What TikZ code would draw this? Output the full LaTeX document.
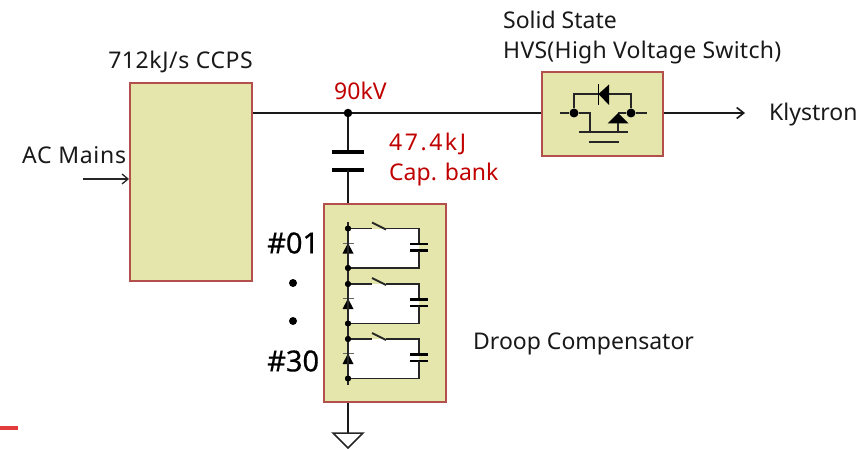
\documentclass[tikz,border=0pt]{standalone}
\usepackage{fontspec}
\setmainfont{Noto Sans}
\usetikzlibrary{arrows.meta}
\definecolor{boxfill}{HTML}{E4E6AC}
\definecolor{boxline}{HTML}{B4504C}
\definecolor{redtxt}{HTML}{C00000}
\definecolor{redmark}{HTML}{E23C3C}
\tikzset{
  x=1pt,y=-1pt,
  blockbox/.style={draw=boxline,fill=boxfill,line width=2pt,minimum width=0pt,inner sep=0pt},
  wire/.style={draw=black!90,line width=2.3pt},
  thin wire/.style={draw=black!85,line width=1.8pt},
  plate/.style={draw=black,line width=4pt},
  smallplate/.style={draw=black,line width=2.4pt},
  dot/.style={circle,fill=black,inner sep=0pt,minimum size=#1},
  dot/.default=8pt,
  lbl/.style={font=\fontsize{23}{30}\selectfont,text=black!90,inner sep=0pt,align=left},
  redlbl/.style={font=\fontsize{23}{30}\selectfont,text=redtxt,inner sep=0pt,align=left},
  bignum/.style={font=\fontsize{29}{34}\selectfont\addfontfeature{FakeBold=0.5},text=black,inner sep=0pt},
}
\newcommand{\loopcell}[2]{% name, top y
  \coordinate (#1a) at (348,#2);
  \coordinate (#1b) at (348,#2+39.5);
  \coordinate (#1c) at (419,#2);
  \coordinate (#1d) at (419,#2+39.5);
  \fill[white] (#1a) rectangle (#1d);
  \node[dot=6pt] (#1da) at (#1a) {};
  \node[dot=6pt] (#1db) at (#1b) {};
  \coordinate (#1s1) at (372,#2);
  \coordinate (#1s2) at (386,#2);
  \coordinate (#1s3) at (372,#2-6);
  \coordinate (#1s4) at (386,#2+1);
  \draw[thin wire] (#1da) -- (#1s1);
  \draw[thin wire] (#1s3) -- (#1s4);
  \draw[thin wire] (#1s2) -- (#1c) -- (419,#2+15.5);
  \draw[smallplate] (410,#2+15.5) -- (428,#2+15.5);
  \draw[smallplate] (410,#2+22) -- (428,#2+22);
  \draw[thin wire] (419,#2+22) -- (#1d) -- (#1db);
  \fill[black] (348,#2+14.5) -- (353.5,#2+25) -- (342.5,#2+25) -- cycle;
  \draw[line width=1pt,draw=black!60] (342.5,#2+14.5) -- (353.5,#2+14.5);
}
\begin{document}
\begin{tikzpicture}
\useasboundingbox (0,0) rectangle (867,449);
% blocks
\node[blockbox,minimum width=122pt,minimum height=198pt] (ccps) at (191,182) {};
\node[blockbox,minimum width=121pt,minimum height=84pt] (hvs) at (602.5,114) {};
\node[blockbox,minimum width=122pt,minimum height=198pt] (droop) at (385,303) {};
% main bus
\node[dot=8.5pt] (junction) at (348,113) {};
\coordinate (ccpsout) at (ccps.east |- junction);
\coordinate (hvsin) at (hvs.west |- junction);
\coordinate (hvsout) at (hvs.east |- junction);
\draw[wire] (ccpsout) -- (junction);
\draw[wire] (junction) -- (hvsin);
\node[lbl,anchor=west] (kly) at (769,114.5) {Klystron};
\coordinate (klyend) at (745,113);
\draw[wire,-{Straight Barb[length=7pt,width=11pt,line width=1.6pt]}] (hvsout) -- (klyend);
% AC
\node[lbl,anchor=west] (ac) at (22,155) {\addfontfeature{LetterSpace=3}AC Mains};
\coordinate (acstart) at (83,179);
\coordinate (acend) at (ccps.west |- acstart);
\draw[thin wire,-{Straight Barb[length=6pt,width=10pt,line width=1.3pt]}] (acstart) -- (acend);
% Cap bank
\coordinate (captop) at (348,152);
\coordinate (capbot) at (348,170);
\draw[wire] (junction) -- (captop);
\draw[plate] (332,152) -- (364,152);
\draw[plate] (332,170) -- (364,170);
\draw[wire] (capbot) -- (junction |- droop.north);
% HVS symbol
\node[dot=9pt] (hl) at (574,113) {};
\node[dot=9pt] (hr) at (631,113) {};
\coordinate (hlw) at (560,113);
\coordinate (hrw) at (647,113);
\draw[thin wire] (hlw) -- (hl) -- (590,113) -- (590,132);
\draw[thin wire] (hr) -- (hrw);
\draw[thin wire] (hl) -- (574,94) -- (631,94) -- (hr);
\fill[black] (598.5,94) -- (609,84.5) -- (609,105) -- cycle;
\draw[line width=1.8pt,black] (598.5,84.5) -- (598.5,105);
\draw[thin wire] (hr) -- (618,113);
\fill[black] (618,113) -- (628.5,123.5) -- (607.5,123.5) -- cycle;
\draw[thin wire] (618,123) -- (618,132);
\draw[thin wire] (579,132) -- (628,132);
\draw[thin wire] (589,142) -- (619,142);
% Droop compensator
\loopcell{A}{228.5}
\loopcell{B}{284}
\loopcell{C}{339}
\draw[line width=1.8pt,black!85] (348,222) -- (348,385);
\foreach \n in {A,B,C}{\node[dot=6pt] at (\n a) {};\node[dot=6pt] at (\n b) {};}
% ground
\coordinate (gndt) at (348,433);
\draw[wire] (droop.south -| gndt) -- (gndt);
\draw[line width=1.5pt,black!85] (333,433) -- (363,433) -- (348,448) -- cycle;
% text
\node[lbl,anchor=center] (t1) at (180.5,61.5) {\addfontfeature{LetterSpace=2.5}712kJ/s CCPS};
\node[lbl,anchor=west] (t2) at (503,38) {Solid State\\\addfontfeature{LetterSpace=1.2}HVS(High Voltage Switch)};
\node[redlbl,anchor=west] (t3) at (334,91) {90kV};
\node[redlbl,anchor=west] (t4) at (389,159.5) {{\addfontfeature{LetterSpace=11}47.4kJ}\\Cap. bank};
\node[lbl,anchor=west] (t5) at (473,343.5) {Droop Compensator};
\node[bignum,anchor=west] (n1) at (267,243) {\#01};
\node[bignum,anchor=west] (n2) at (267,361) {\#30};
\node[dot=8pt] (d1) at (293,283) {};
\node[dot=8pt] (d2) at (293,321) {};
% stray mark
\coordinate (r1) at (0,428);
\coordinate (r2) at (18,428);
\draw[line width=4.5pt,draw=redmark] (r1) -- (r2);
\end{tikzpicture}
\end{document}
